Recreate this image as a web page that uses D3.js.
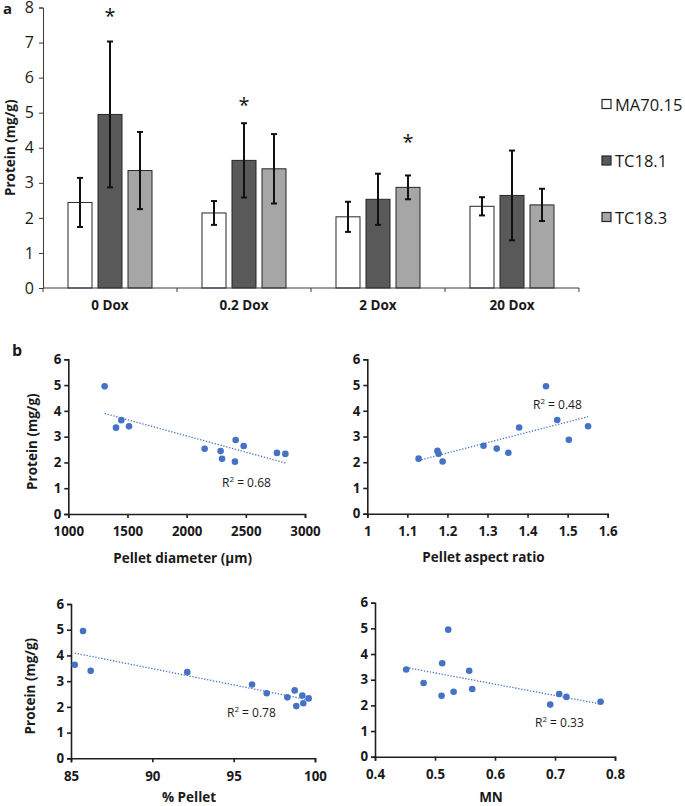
<!DOCTYPE html>
<html><head><meta charset="utf-8">
<script src="https://cdn.jsdelivr.net/npm/d3@7"></script>
<style>
body{margin:0;background:#fff}
svg{display:block}
text{font-family:"Open Sans",Lato,"Liberation Sans",sans-serif;fill:#1a1a1a}
</style>
</head><body>
<svg id="c" width="685" height="806"></svg>
<script>
// ---------- DATA ----------
const categories = ["0 Dox", "0.2 Dox", "2 Dox", "20 Dox"];
const series = ["MA70.15", "TC18.1", "TC18.3"];
const maMean  = [2.44, 2.14, 2.03, 2.33];
const tc1Mean = [4.95, 3.64, 2.53, 2.64];
const tc3Mean = [3.35, 3.40, 2.87, 2.37];
const maErr   = [0.70, 0.34, 0.43, 0.26];
const tc1Err  = [2.08, 1.06, 0.73, 1.28];
const tc3Err  = [1.10, 0.99, 0.34, 0.46];
const starCats   = ["0 Dox", "0.2 Dox", "2 Dox"];
const starSeries = ["TC18.1", "TC18.1", "TC18.3"];
const starY      = [7.9, 5.36, 4.3];
const barTicks = [0, 1, 2, 3, 4, 5, 6, 7, 8];

// per-sample predictors (order: category x series)
const diameter = [2287, 1307, 1403, 2299, 1448, 1513, 2408, 2152, 2414, 2834, 2482, 2763];
const aspect   = [1.175, 1.446, 1.379, 1.128, 1.474, 1.551, 1.188, 1.323, 1.503, 1.178, 1.290, 1.352];
const pellet   = [99.22, 85.74, 92.15, 99.28, 85.23, 86.21, 98.85, 97.03, 96.13, 99.61, 98.75, 98.30];
const mn       = [0.707, 0.522, 0.557, 0.776, 0.512, 0.452, 0.692, 0.531, 0.481, 0.719, 0.562, 0.511];
const r2Labels = ["0.68", "0.48", "0.78", "0.33"];
const xTitles  = ["Pellet diameter (µm)", "Pellet aspect ratio", "% Pellet", "MN"];
const xTicks1 = [1000, 1500, 2000, 2500, 3000];
const xTicks2 = [1, 1.1, 1.2, 1.3, 1.4, 1.5, 1.6];
const xTicks3 = [85, 90, 95, 100];
const xTicks4 = [0.4, 0.5, 0.6, 0.7, 0.8];
const yTicksS = [0, 1, 2, 3, 4, 5, 6];

const means = [maMean, tc1Mean, tc3Mean];
const errs  = [maErr, tc1Err, tc3Err];
const barData = [];
categories.forEach((c, ci) => series.forEach((s, si) => barData.push({cat: c, ser: s, v: means[si][ci], e: errs[si][ci]})));
const protein = barData.map(d => d.v);

// ---------- STYLE ----------
const fills = {"MA70.15": "#ffffff", "TC18.1": "#595959", "TC18.3": "#a6a6a6"};
const svg = d3.select("#c");

// ---------- PANEL a : bar chart ----------
const x0 = d3.scaleBand().domain(categories).range([43, 579]).padding(0);
const x1 = d3.scaleBand().domain(series).range([0, x0.bandwidth()]).paddingInner(0.2).paddingOuter(0.833);
const yB = d3.scaleLinear().domain([0, 8]).range([288, 7.5]);

const gA = svg.append("g");
const yAx = gA.append("g").attr("transform", "translate(43,0)")
  .call(d3.axisLeft(yB).tickValues(barTicks).tickFormat(d3.format("d")).tickSize(4).tickPadding(5));
yAx.selectAll("text").style("font-size", "16px").style("fill", "#1a1a1a");
yAx.selectAll("line,path").attr("stroke", "#3a3a3a");

const bars = gA.append("g").selectAll("g").data(barData).join("g")
  .attr("transform", d => `translate(${x0(d.cat) + x1(d.ser)},0)`);
bars.append("rect")
  .attr("x", 0).attr("width", x1.bandwidth())
  .attr("y", d => yB(d.v)).attr("height", d => yB(0) - yB(d.v))
  .attr("fill", d => fills[d.ser]).attr("stroke", "#262626").attr("stroke-width", 1);
const cx = x1.bandwidth() / 2;
bars.append("line").attr("x1", cx).attr("x2", cx)
  .attr("y1", d => yB(d.v + d.e)).attr("y2", d => yB(d.v - d.e))
  .attr("stroke", "#111").attr("stroke-width", 2);
bars.append("line").attr("x1", cx - 3).attr("x2", cx + 3)
  .attr("y1", d => yB(d.v + d.e)).attr("y2", d => yB(d.v + d.e))
  .attr("stroke", "#111").attr("stroke-width", 2);
bars.append("line").attr("x1", cx - 3).attr("x2", cx + 3)
  .attr("y1", d => yB(d.v - d.e)).attr("y2", d => yB(d.v - d.e))
  .attr("stroke", "#111").attr("stroke-width", 2);

// x axis
gA.append("line").attr("x1", 43).attr("x2", 579).attr("y1", yB(0)).attr("y2", yB(0)).attr("stroke", "#3a3a3a");
const bounds = categories.map(c => x0(c)).concat([x0.range()[1]]);
gA.selectAll(".bt").data(bounds).join("line")
  .attr("x1", d => d).attr("x2", d => d).attr("y1", yB(0)).attr("y2", yB(0) + 4).attr("stroke", "#3a3a3a");
gA.selectAll(".cl").data(categories).join("text")
  .attr("x", d => x0(d) + x0.bandwidth() / 2).attr("y", yB(0) + 17)
  .attr("text-anchor", "middle").attr("dominant-baseline", "central")
  .style("font-size", "13.5px").style("font-weight", "bold").text(d => d);

// stars
gA.selectAll(".st").data(starY).join("text")
  .attr("x", (d, i) => x0(starCats[i]) + x1(starSeries[i]) + x1.bandwidth() / 2)
  .attr("y", d => yB(d) + 12)
  .attr("text-anchor", "middle").style("font-size", "20px").style("fill", "#111").text("*");

// y title
gA.append("text").attr("transform", `translate(10,${(yB(0) + yB(8)) / 2}) rotate(-90)`)
  .attr("text-anchor", "middle").attr("dominant-baseline", "central")
  .style("font-size", "13.5px").style("font-weight", "bold").text("Protein (mg/g)");

// legend
const legY = [104, 160.5, 217];
const leg = gA.selectAll(".lg").data(series).join("g")
  .attr("transform", (d, i) => `translate(602,${legY[i]})`);
leg.append("rect").attr("x", 0).attr("y", -4.5).attr("width", 9).attr("height", 9)
  .attr("fill", d => fills[d]).attr("stroke", "#262626").attr("stroke-width", 1.2);
leg.append("text").attr("x", 13).attr("y", 0).attr("dominant-baseline", "central")
  .style("font-size", "16.5px").text(d => d);

// panel labels
svg.append("text").attr("x", 3).attr("y", 14).style("font-size", "15px").style("font-weight", "bold").text("a");
svg.append("text").attr("x", 12).attr("y", 356).style("font-size", "16px").style("font-weight", "bold").text("b");

// ---------- PANEL b : scatter plots ----------
const panels = [
  {xv: diameter, left: 68.3, right: 305, top: 359.3, bottom: 514, dom: [1000, 3000], ticks: xTicks1, r2: [2299, 1.24], yTitle: true, titleX: 32, titleY: 558},
  {xv: aspect,   left: 367.3, right: 607.7, top: 359.3, bottom: 513.7, dom: [1, 1.6], ticks: xTicks2, r2: [1.4136, 4.27], yTitle: false, titleY: 557},
  {xv: pellet,   left: 71, right: 315, top: 604, bottom: 758.3, dom: [85, 100], ticks: xTicks3, r2: [94.59, 1.80], yTitle: true, titleX: 30, titleY: 797},
  {xv: mn,       left: 375, right: 615, top: 602.7, bottom: 756.7, dom: [0.4, 0.8], ticks: xTicks4, r2: [0.6667, 1.35], yTitle: false, titleY: 797}
];

panels.forEach((p, pi) => {
  const g = svg.append("g");
  const xs = d3.scaleLinear().domain(p.dom).range([p.left, p.right]);
  const ys = d3.scaleLinear().domain([0, 6]).range([p.bottom, p.top]);
  const ay = g.append("g").attr("transform", `translate(${p.left},0)`)
    .call(d3.axisLeft(ys).tickValues(yTicksS).tickFormat(d3.format("d")).tickSize(4).tickPadding(3));
  const ax = g.append("g").attr("transform", `translate(0,${p.bottom})`)
    .call(d3.axisBottom(xs).tickValues(p.ticks).tickFormat(d => String(d)).tickSize(4).tickPadding(9));
  [ay, ax].forEach(a => {
    a.selectAll("path,line").attr("stroke", "#1f1f1f").attr("stroke-width", 1.6);
    a.selectAll("text").style("font-size", "13.3px").style("font-weight", "bold").style("fill", "#1a1a1a");
  });

  // trendline (least squares)
  const pts = p.xv.map((x, i) => [x, protein[i]]);
  const mx = d3.mean(pts, d => d[0]), my = d3.mean(pts, d => d[1]);
  const sxy = d3.sum(pts, d => (d[0] - mx) * (d[1] - my));
  const sxx = d3.sum(pts, d => (d[0] - mx) ** 2);
  const b = sxy / sxx, a0 = my - b * mx;
  const [xmin, xmax] = d3.extent(p.xv);
  g.append("line")
    .attr("x1", xs(xmin)).attr("y1", ys(a0 + b * xmin))
    .attr("x2", xs(xmax)).attr("y2", ys(a0 + b * xmax))
    .attr("stroke", "#4472c4").attr("stroke-width", 1.3).attr("stroke-dasharray", "1.3 1.7");

  g.selectAll("circle").data(pts).join("circle")
    .attr("cx", d => xs(d[0])).attr("cy", d => ys(d[1])).attr("r", 3.3)
    .attr("fill", "#4472c4");

  const t = g.append("text").attr("x", xs(p.r2[0])).attr("y", ys(p.r2[1]))
    .attr("dominant-baseline", "central").style("font-size", "12px");
  t.append("tspan").text("R");
  t.append("tspan").attr("dy", -4).style("font-size", "8px").text("2");
  t.append("tspan").attr("dy", 4).text(" = " + r2Labels[pi]);

  g.append("text").attr("x", (p.left + p.right) / 2 - 4).attr("y", p.titleY)
    .attr("text-anchor", "middle").attr("dominant-baseline", "central")
    .style("font-size", "13.5px").style("font-weight", "bold").text(xTitles[pi]);

  if (p.yTitle) {
    g.append("text").attr("transform", `translate(${p.titleX},${(p.top + p.bottom) / 2 + 5}) rotate(-90)`)
      .attr("text-anchor", "middle").attr("dominant-baseline", "central")
      .style("font-size", "13.5px").style("font-weight", "bold").text("Protein (mg/g)");
  }
});
</script>
</body></html>
